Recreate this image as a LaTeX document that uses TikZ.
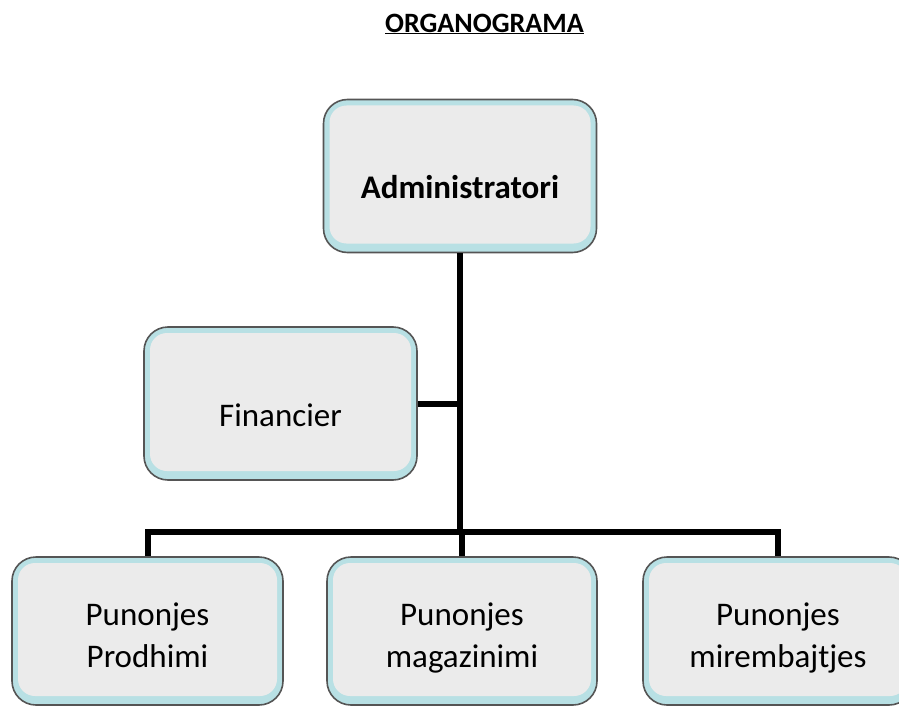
\documentclass[tikz,border=0pt]{standalone}
\usepackage{fontspec}
\setmainfont{Carlito}
\definecolor{boxgray}{HTML}{EBEBEB}
\definecolor{boxcyan}{HTML}{B8E0E4}
\definecolor{boxline}{HTML}{555555}
\newcommand\twolines[1]{\begin{tabular}[t]{@{}c@{}}#1\end{tabular}}
\begin{document}
\begin{tikzpicture}[x=1pt,y=-1pt,
  orgbox/.style={draw=boxline, line width=1.6pt, fill=boxcyan, rounded corners=24pt,
    minimum width=273pt, minimum height=153pt, inner sep=0pt,
    font=\fontsize{33}{42}\selectfont,
    path picture={\fill[boxgray, rounded corners=17pt]
      ([shift={(6pt,9pt)}]path picture bounding box.south west) rectangle
      ([shift={(-6pt,-6pt)}]path picture bounding box.north east);}},
  lowbase/.style={text height=#1, text depth=0pt},
  highbase/.style={text height=0pt, text depth=#1},
  link/.style={line width=6pt}]
\useasboundingbox (0,0) rectangle (899,706);
\begin{scope}
\clip (0,0) rectangle (899,706);
\node[font=\fontsize{28}{34}\selectfont\bfseries] (title) at (484.5,24) {\underline{ORGANOGRAMA}};
\node[orgbox, lowbase=44pt, font=\fontsize{33}{42}\selectfont\bfseries] (admin) at (460,176) {Administratori};
\node[orgbox, lowbase=45pt] (fin) at (280.5,403.5) {Financier};
\node[orgbox, highbase=12pt, minimum width=271pt, minimum height=148pt] (p1) at (147.5,631) {\twolines{Punonjes\\Prodhimi}};
\node[orgbox, highbase=12pt, minimum width=270pt, minimum height=148pt] (p2) at (462,631) {\twolines{Punonjes\\magazinimi}};
\node[orgbox, highbase=12pt, minimum width=270pt, minimum height=148pt] (p3) at (778,631) {\twolines{Punonjes\\mirembajtjes}};
\coordinate (j) at (461,532);
\draw[link] (admin.south) |- (j);
\draw[link] (fin.east) -- (fin.east -| j);
\draw[link] (j) -| (p1.north);
\draw[link] (j) -| (p3.north);
\draw[link] (j) -| (p2.north);
\end{scope}
\end{tikzpicture}
\end{document}
